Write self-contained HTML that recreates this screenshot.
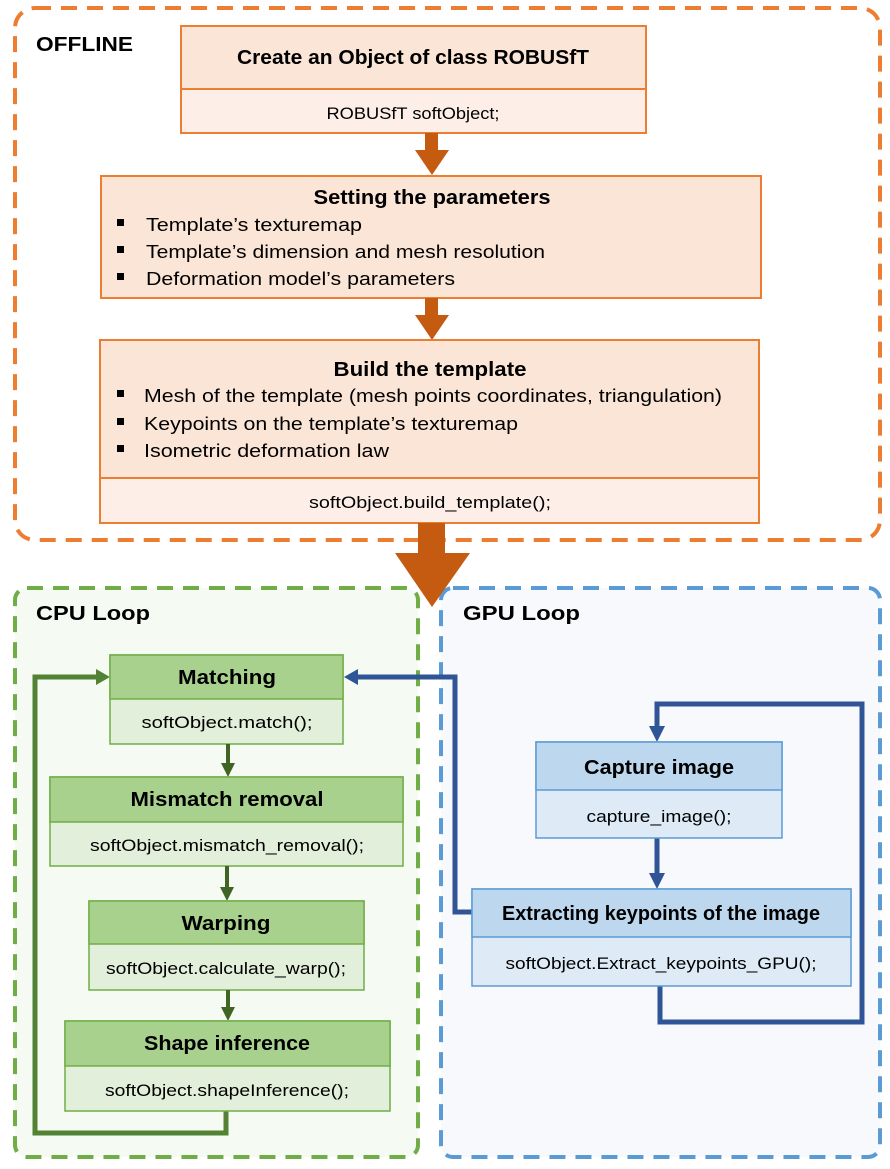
<!DOCTYPE html>
<html><head><meta charset="utf-8"><style>
html,body{margin:0;padding:0;background:#fff}
svg{display:block}
text{font-family:"Liberation Sans",sans-serif;fill:#000}
.h{font-weight:bold;font-size:20px}
.b{font-size:17px}
.l{font-size:18.5px}
</style></head><body>
<svg width="890" height="1169" viewBox="0 0 890 1169" xmlns="http://www.w3.org/2000/svg">
<rect x="15" y="8" width="865" height="532" rx="20" fill="#fff" stroke="#ED7D31" stroke-width="4" stroke-dasharray="16 10"/>
<text x="36" y="51" class="h" font-size="21" textLength="97" lengthAdjust="spacingAndGlyphs">OFFLINE</text>

<rect x="181" y="26" width="465" height="107" fill="#FDEFE7" stroke="#ED7D31" stroke-width="2"/>
<rect x="181" y="26" width="465" height="63" fill="#FBE5D6" stroke="#ED7D31" stroke-width="2"/>
<text x="413" y="64" class="h" text-anchor="middle" textLength="352" lengthAdjust="spacingAndGlyphs">Create an Object of class ROBUSfT</text>
<text x="413" y="119" class="b" text-anchor="middle" textLength="173" lengthAdjust="spacingAndGlyphs">ROBUSfT softObject;</text>

<polygon points="425,133 438,133 438,150 449,150 432,175 415,150 425,150" fill="#C55A11"/>

<rect x="101" y="176" width="660" height="122" fill="#FBE5D6" stroke="#ED7D31" stroke-width="2"/>
<text x="432" y="204" class="h" text-anchor="middle" textLength="237" lengthAdjust="spacingAndGlyphs">Setting the parameters</text>
<rect x="117" y="219" width="7" height="7" fill="#000"/>
<rect x="117" y="246" width="7" height="7" fill="#000"/>
<rect x="117" y="273" width="7" height="7" fill="#000"/>
<text x="146" y="231" class="l" textLength="216" lengthAdjust="spacingAndGlyphs">Template’s texturemap</text>
<text x="146" y="258" class="l" textLength="399" lengthAdjust="spacingAndGlyphs">Template’s dimension and mesh resolution</text>
<text x="146" y="285" class="l" textLength="309" lengthAdjust="spacingAndGlyphs">Deformation model’s parameters</text>

<polygon points="425,298 438,298 438,315 449,315 432,340 415,315 425,315" fill="#C55A11"/>

<rect x="100" y="340" width="659" height="183" fill="#FDEFE7" stroke="#ED7D31" stroke-width="2"/>
<rect x="100" y="340" width="659" height="138" fill="#FBE5D6" stroke="#ED7D31" stroke-width="2"/>
<text x="430" y="376" class="h" text-anchor="middle" textLength="193" lengthAdjust="spacingAndGlyphs">Build the template</text>
<rect x="117" y="390" width="7" height="7" fill="#000"/>
<rect x="117" y="418" width="7" height="7" fill="#000"/>
<rect x="117" y="445" width="7" height="7" fill="#000"/>
<text x="144" y="402" class="l" textLength="578" lengthAdjust="spacingAndGlyphs">Mesh of the template (mesh points coordinates, triangulation)</text>
<text x="144" y="430" class="l" textLength="374" lengthAdjust="spacingAndGlyphs">Keypoints on the template’s texturemap</text>
<text x="144" y="457" class="l" textLength="245" lengthAdjust="spacingAndGlyphs">Isometric deformation law</text>
<text x="430" y="508" class="b" text-anchor="middle" textLength="242" lengthAdjust="spacingAndGlyphs">softObject.build_template();</text>

<rect x="15" y="588" width="403" height="569" rx="12" fill="#F5FAF2" stroke="#70AD47" stroke-width="4" stroke-dasharray="16 10"/>
<rect x="441" y="588" width="439" height="569" rx="12" fill="#F8F9FC" stroke="#5B9BD5" stroke-width="4" stroke-dasharray="16 10"/>

<polygon points="418,523 445,523 445,553 470,553 432,607 395,553 418,553" fill="#C55A11"/>

<text x="36" y="620" class="h" font-size="21" textLength="114" lengthAdjust="spacingAndGlyphs">CPU Loop</text>
<text x="463" y="620" class="h" font-size="21" textLength="117" lengthAdjust="spacingAndGlyphs">GPU Loop</text>

<polyline points="226,1111 226,1133 35,1133 35,677 98,677" fill="none" stroke="#548235" stroke-width="5"/>
<polygon points="96,669 110,677 96,685" fill="#548235"/>

<polyline points="473,912 455,912 455,677 356,677" fill="none" stroke="#2F5597" stroke-width="5"/>
<polygon points="358,669 344,677 358,685" fill="#2F5597"/>
<polyline points="660,986 660,1022 862,1022 862,704 657,704 657,728" fill="none" stroke="#2F5597" stroke-width="5"/>
<polygon points="649,726 665,726 657,742" fill="#2F5597"/>
<line x1="657" y1="838" x2="657" y2="875" stroke="#2F5597" stroke-width="5"/>
<polygon points="649,873 665,873 657,889" fill="#2F5597"/>

<rect x="110" y="655" width="233" height="89" fill="#E2EFDA" stroke="#70AD47" stroke-width="1.5"/>
<rect x="110" y="655" width="233" height="44" fill="#A9D18E" stroke="#70AD47" stroke-width="1.5"/>
<text x="227" y="684" class="h" text-anchor="middle" textLength="98" lengthAdjust="spacingAndGlyphs">Matching</text>
<text x="227" y="728" class="b" text-anchor="middle" textLength="171" lengthAdjust="spacingAndGlyphs">softObject.match();</text>
<line x1="228" y1="744" x2="228" y2="765" stroke="#3F6424" stroke-width="4"/>
<polygon points="221,763 235,763 228,777" fill="#3F6424"/>

<rect x="50" y="777" width="353" height="89" fill="#E2EFDA" stroke="#70AD47" stroke-width="1.5"/>
<rect x="50" y="777" width="353" height="45" fill="#A9D18E" stroke="#70AD47" stroke-width="1.5"/>
<text x="227" y="806" class="h" text-anchor="middle" textLength="193" lengthAdjust="spacingAndGlyphs">Mismatch removal</text>
<text x="227" y="851" class="b" text-anchor="middle" textLength="274" lengthAdjust="spacingAndGlyphs">softObject.mismatch_removal();</text>
<line x1="227" y1="866" x2="227" y2="889" stroke="#3F6424" stroke-width="4"/>
<polygon points="220,887 234,887 227,901" fill="#3F6424"/>

<rect x="89" y="901" width="275" height="89" fill="#E2EFDA" stroke="#70AD47" stroke-width="1.5"/>
<rect x="89" y="901" width="275" height="43" fill="#A9D18E" stroke="#70AD47" stroke-width="1.5"/>
<text x="226" y="930" class="h" text-anchor="middle" textLength="89" lengthAdjust="spacingAndGlyphs">Warping</text>
<text x="226" y="974" class="b" text-anchor="middle" textLength="240" lengthAdjust="spacingAndGlyphs">softObject.calculate_warp();</text>
<line x1="228" y1="990" x2="228" y2="1009" stroke="#3F6424" stroke-width="4"/>
<polygon points="221,1007 235,1007 228,1021" fill="#3F6424"/>

<rect x="65" y="1021" width="325" height="90" fill="#E2EFDA" stroke="#70AD47" stroke-width="1.5"/>
<rect x="65" y="1021" width="325" height="45" fill="#A9D18E" stroke="#70AD47" stroke-width="1.5"/>
<text x="227" y="1050" class="h" text-anchor="middle" textLength="166" lengthAdjust="spacingAndGlyphs">Shape inference</text>
<text x="227" y="1096" class="b" text-anchor="middle" textLength="244" lengthAdjust="spacingAndGlyphs">softObject.shapeInference();</text>

<rect x="536" y="742" width="246" height="96" fill="#DEEBF7" stroke="#5B9BD5" stroke-width="1.5"/>
<rect x="536" y="742" width="246" height="48" fill="#BDD7EE" stroke="#5B9BD5" stroke-width="1.5"/>
<text x="659" y="774" class="h" text-anchor="middle" textLength="150" lengthAdjust="spacingAndGlyphs">Capture image</text>
<text x="659" y="822" class="b" text-anchor="middle" textLength="145" lengthAdjust="spacingAndGlyphs">capture_image();</text>

<rect x="472" y="889" width="379" height="97" fill="#DEEBF7" stroke="#5B9BD5" stroke-width="1.5"/>
<rect x="472" y="889" width="379" height="48" fill="#BDD7EE" stroke="#5B9BD5" stroke-width="1.5"/>
<text x="661" y="920" class="h" font-size="19" text-anchor="middle" textLength="318" lengthAdjust="spacingAndGlyphs">Extracting keypoints of the image</text>
<text x="661" y="969" class="b" text-anchor="middle" textLength="311" lengthAdjust="spacingAndGlyphs">softObject.Extract_keypoints_GPU();</text>
</svg>
</body></html>
